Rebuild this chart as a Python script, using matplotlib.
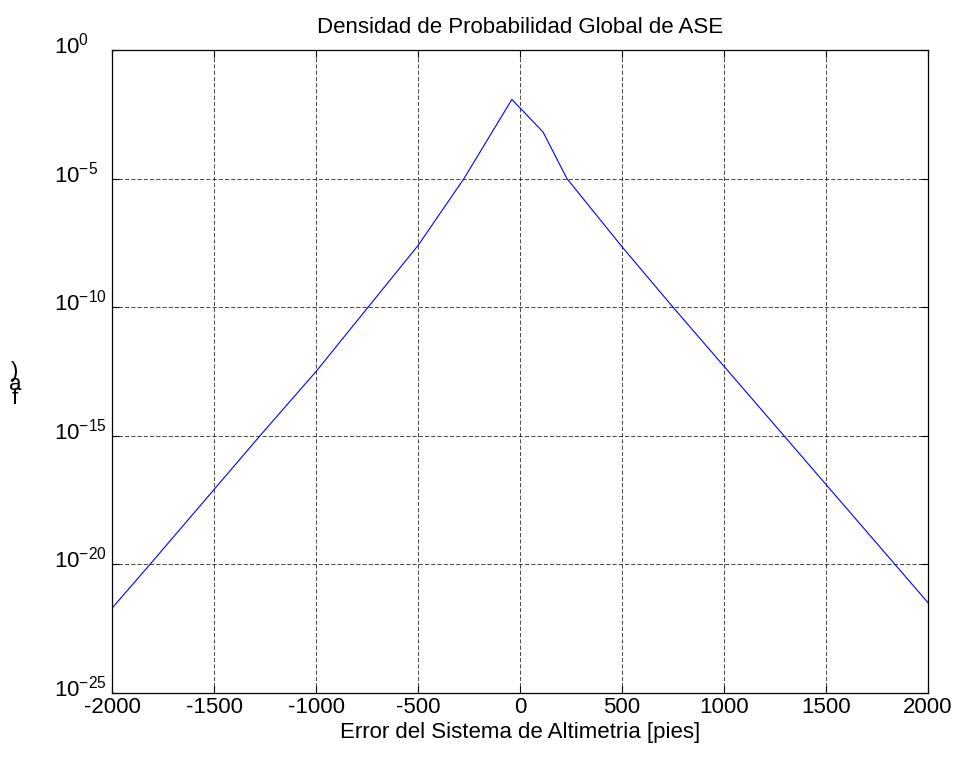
import numpy as np
import matplotlib
matplotlib.use("Agg")
import matplotlib.pyplot as plt
import matplotlib.transforms as mtransforms
from matplotlib.ticker import FixedLocator, FuncFormatter, NullLocator

plt.rcParams['font.family'] = ['Liberation Sans', 'DejaVu Sans']
plt.rcParams['mathtext.fontset'] = 'custom'
plt.rcParams['mathtext.rm'] = 'Liberation Sans'
plt.rcParams['mathtext.it'] = 'Liberation Sans'

# error [ft] and log10 of probability density
error_ft = [-2000, -1814, -1275, -1000, -745, -500, -275, -40, 113, 230, 500, 750, 1294, 1838, 2000]
log_pdf = [-21.70, -20.0, -15.0, -12.5, -10.0, -7.6, -5.0, -1.92, -3.19, -5.0, -7.65, -10.0, -15.0, -20.0, -21.49]

x_ticks = [-2000, -1500, -1000, -500, 0, 500, 1000, 1500, 2000]
y_ticks = [1e-25, 1e-20, 1e-15, 1e-10, 1e-5, 1e0]

title = "Densidad de Probabilidad Global de ASE"
xlabel = "Error del Sistema de Altimetria [pies]"

fig = plt.figure(figsize=(9.6, 7.65), dpi=100)
ax = fig.add_axes([0.1167, 0.0941, 0.85, 0.8405])

pdf = 10.0 ** np.array(log_pdf)
ax.semilogy(error_ft, pdf, color=(0, 0, 1), lw=0.8)

ax.set_xlim(-2000, 2000)
ax.set_ylim(1e-25, 1e0)
ax.xaxis.set_major_locator(FixedLocator(x_ticks))
ax.yaxis.set_major_locator(FixedLocator(y_ticks))
ax.yaxis.set_minor_locator(NullLocator())
ax.xaxis.set_major_formatter(FuncFormatter(lambda v, p: "%d" % v))
ax.yaxis.set_major_formatter(FuncFormatter(lambda v, p: r"10$^{%d}$" % round(np.log10(v))))

ax.tick_params(direction='in', length=5, width=0.8, labelsize=16, top=True, right=True)
ax.tick_params(axis='x', pad=3)
ax.tick_params(axis='y', pad=42)
ax.grid(True, color='black', lw=0.5, linestyle=(0, (6, 3)))
for s in ax.spines.values():
    s.set_linewidth(0.9)

# "10" starts at the same x for every label, lifted a little onto the tick
shift = mtransforms.ScaledTranslation(0, 5 / 72, fig.dpi_scale_trans)
for lab in ax.get_yticklabels():
    lab.set_horizontalalignment('left')
    lab.set_transform(lab.get_transform() + shift)

ax.set_title(title, fontsize=16, pad=12)
ax.set_xlabel(xlabel, fontsize=16, labelpad=3)

# garbled y label as it appears in the original
fig.text(15 / 960, 1 - 385 / 765, ")\na\nf", fontsize=16, ha='center', va='center',
         linespacing=0.55)

fig.savefig("out.png", dpi=100)
